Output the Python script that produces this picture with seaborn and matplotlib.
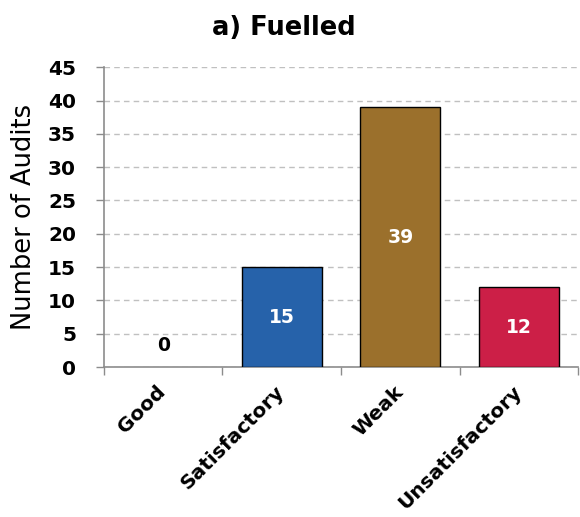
import numpy as np
import pandas as pd
import matplotlib
matplotlib.use("Agg")
import matplotlib.pyplot as plt
import matplotlib.transforms as mtransforms
import seaborn as sns
from matplotlib.ticker import FixedLocator

# data
categories = ["Good", "Satisfactory", "Weak", "Unsatisfactory"]
audits = [0, 15, 39, 12]
bar_colors = ["#2662AA", "#2662AA", "#9B702C", "#CC1F47"]

df = pd.DataFrame({"Rating": categories, "Audits": audits})

sns.set_style("white")
plt.rcParams["font.family"] = ["DejaVu Sans"]
plt.rcParams["text.color"] = "black"
plt.rcParams["xtick.color"] = "black"
plt.rcParams["ytick.color"] = "black"
plt.rcParams["axes.labelcolor"] = "black"

fig = plt.figure(figsize=(5.8, 5.17), dpi=100)
ax = fig.add_axes([0.179, 0.290, 0.818, 0.580])

sns.barplot(data=df, x="Rating", y="Audits", hue="Rating", palette=bar_colors,
            saturation=1, width=0.675, edgecolor="black", linewidth=1,
            legend=False, ax=ax, zorder=3)
for p in ax.patches:
    if p.get_height() == 0:
        p.set_edgecolor("none")

ax.set_xlim(-0.5, 3.5)
ax.set_ylim(0, 45)
ax.set_yticks(np.arange(0, 46, 5))
ax.yaxis.grid(True, linestyle=(0, (4, 3)), color="#c0c0c0", linewidth=1, zorder=0)
ax.set_axisbelow(True)

# value labels in the middle of each bar
for i, v in enumerate(audits):
    if v > 0:
        ax.text(i, v / 2, str(v), ha="center", va="center", color="white",
                fontsize=13.5, fontweight="bold", zorder=4)
    else:
        ax.text(i, 3.3, str(v), ha="center", va="center", color="black",
                fontsize=13.5, fontweight="bold", zorder=4)

fig.text(0.49, 0.945, "a) Fuelled", ha="center", va="center",
         fontsize=18.5, fontweight="bold")
ax.set_xlabel("")
ax.set_ylabel("Number of Audits", fontsize=18.5, labelpad=8)

for s in ["top", "right"]:
    ax.spines[s].set_visible(False)
for s in ["left", "bottom"]:
    ax.spines[s].set_color("#8c8c8c")
    ax.spines[s].set_linewidth(1.2)

ax.tick_params(axis="y", which="major", left=True, length=6, width=1, color="#8c8c8c",
               direction="out", labelsize=14.5, pad=14)
for lbl in ax.get_yticklabels():
    lbl.set_fontweight("bold")

# x tick marks between the categories, labels at the centres
ax.xaxis.set_minor_locator(FixedLocator(np.arange(-0.5, 3.6, 1.0)))
ax.tick_params(axis="x", which="minor", bottom=True, length=6, width=1,
               color="#8c8c8c", direction="out")
ax.tick_params(axis="x", which="major", bottom=False, length=0, labelsize=14.5, pad=11)
ax.set_xticks(range(len(categories)))
ax.set_xticklabels(categories, rotation=45, ha="right", rotation_mode="anchor",
                   fontweight="bold")
shift = mtransforms.ScaledTranslation(-7 / 100, 0, fig.dpi_scale_trans)
for lbl in ax.get_xticklabels():
    lbl.set_transform(lbl.get_transform() + shift)

fig.savefig("out.png", dpi=100)
